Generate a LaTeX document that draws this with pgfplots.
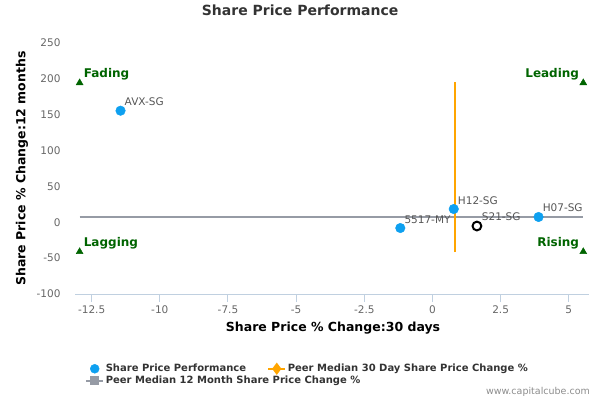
\documentclass[border=0pt]{standalone}
\usepackage{pgfplots}
\pgfplotsset{compat=1.18}
\usepackage{fontspec}
\setmainfont{DejaVu Sans}

\definecolor{ptblue}{RGB}{14,160,240}
\definecolor{medorange}{RGB}{255,165,0}
\definecolor{medgray}{RGB}{150,155,165}
\definecolor{quadgreen}{RGB}{0,100,0}
\definecolor{axisblue}{RGB}{192,208,224}
\definecolor{ticktext}{RGB}{102,102,102}
\definecolor{labeltext}{RGB}{85,85,85}
\definecolor{titletext}{RGB}{51,51,51}

\begin{document}
\begin{tikzpicture}
\useasboundingbox (0pt,0pt) rectangle (600pt,400pt);
\begin{axis}[
    at={(75pt,106pt)}, anchor=south west,
    scale only axis, width=514pt, height=251pt,
    xmin=-13.11, xmax=5.74,
    ymin=-100, ymax=250,
    xtick={-12.5,-10,-7.5,-5,-2.5,0,2.5,5},
    ytick={-100,-50,0,50,100,150,200,250},
    /pgf/number format/assume math mode=true,
    ticklabel style={font=\fontsize{10.5}{12}\selectfont, text=ticktext},
    yticklabel style={xshift=-3pt},
    axis x line*=bottom, axis y line*=left,
    x axis line style={axisblue, line width=1pt, -},
    y axis line style={draw=none},
    xtick style={axisblue, line width=1pt},
    ytick style={draw=none},
    tick align=outside, major tick length=8pt,
    clip=false,
    title={Share Price Performance},
    title style={at={(axis description cs:0.438,1.108)}, anchor=center,
        font=\fontsize{14}{16}\selectfont\bfseries, text=titletext},
    xlabel={Share Price \% Change:30 days},
    xlabel style={at={(axis description cs:0.502,-0.135)}, anchor=center,
        font=\fontsize{12.5}{14}\selectfont\bfseries},
    ylabel={Share Price \% Change:12 months},
    ylabel style={at={(axis description cs:-0.103,0.5)}, anchor=center,
        font=\fontsize{12.5}{14}\selectfont\bfseries},
    legend columns=2,
    legend cell align=left,
    legend style={at={(axis description cs:0.0136,-0.265)}, anchor=north west,
        draw=none, fill=none, row sep=0pt,
        font=\fontsize{10}{12}\selectfont\bfseries, text=titletext,
        nodes={inner sep=1.5pt}},
]
% legend first, the real plots come after with forget plot
\addlegendimage{only marks, mark=*, mark size=4.5pt, ptblue}
\addlegendentry{\makebox[160pt][l]{Share Price Performance}}
\addlegendimage{medorange, line width=2pt, mark=diamond*, mark size=4.5pt}
\addlegendentry{Peer Median 30 Day Share Price Change \%}
\addlegendimage{medgray, line width=2pt, mark=square*, mark size=3.5pt}
\addlegendentry{\makebox[0pt][l]{Peer Median 12 Month Share Price Change \%}}

% peer medians
\addplot[forget plot, medgray, line width=2pt] coordinates {(-12.94,6.8) (5.53,6.8)};
\addplot[forget plot, medorange, line width=2pt] coordinates {(0.81,-41.5) (0.81,195)};

% peers
\addplot[forget plot, only marks, mark=*, mark size=4.8pt, ptblue,
    nodes near coords, point meta=explicit symbolic,
    nodes near coords style={anchor=base west, xshift=4pt, yshift=5pt, inner sep=0pt,
        text=labeltext, font=\fontsize{10.5}{12}\selectfont}]
    table[meta=label] {
x y label
-11.44 155.6 AVX-SG
-1.18 -8.0 5517-MY
0.78 18.5 H12-SG
3.89 7.4 H07-SG
};

% the company itself
\addplot[forget plot, only marks, mark=o, mark size=4.4pt, black, mark options={line width=2pt},
    nodes near coords, point meta=explicit symbolic,
    nodes near coords style={anchor=base west, xshift=4pt, yshift=5.5pt, inner sep=0pt,
        text=labeltext, font=\fontsize{10.5}{12}\selectfont}]
    table[meta=label] {
x y label
1.63 -5.2 S21-SG
};

% quadrant markers
\addplot[forget plot, only marks, mark=triangle*, mark size=4pt, quadgreen,
    nodes near coords, point meta=explicit symbolic,
    nodes near coords style={anchor=base west, xshift=4pt, yshift=5.5pt, inner sep=0pt,
        text=quadgreen, font=\fontsize{12}{14}\selectfont\bfseries}]
    table[meta=label] {
x y label
-12.94 194.5 Fading
-12.94 -41 Lagging
};
\addplot[forget plot, only marks, mark=triangle*, mark size=4pt, quadgreen,
    nodes near coords, point meta=explicit symbolic,
    nodes near coords style={anchor=base east, xshift=-4pt, yshift=5.5pt, inner sep=0pt,
        text=quadgreen, font=\fontsize{12}{14}\selectfont\bfseries}]
    table[meta=label] {
x y label
5.53 194.5 Leading
5.53 -41 Rising
};
\end{axis}
\node[anchor=east, inner sep=0pt, text=black!45, font=\fontsize{9.5}{11}\selectfont]
    at (590pt,8pt) {www.capitalcube.com};
\end{tikzpicture}
\end{document}
